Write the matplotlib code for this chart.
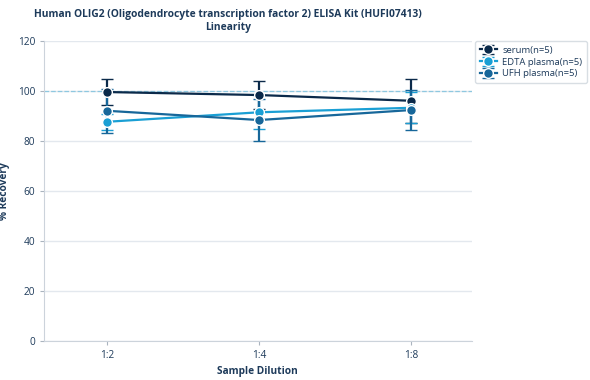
import matplotlib.pyplot as plt
import numpy as np

plt.rcParams['font.family'] = ['Open Sans', 'Noto Sans', 'DejaVu Sans']

dilutions = ['1:2', '1:4', '1:8']
serum = [99.6, 98.4, 96.1]
serum_err = [5.2, 5.6, 8.7]
edta = [87.7, 91.5, 93.3]
edta_err = [3.3, 6.8, 6.2]
ufh = [92.1, 88.4, 92.4]
ufh_err = [8.8, 8.3, 8.0]

series = [
    ('serum(n=5)', serum, serum_err, '#0b2a4a'),
    ('EDTA plasma(n=5)', edta, edta_err, '#1a9fd4'),
    ('UFH plasma(n=5)', ufh, ufh_err, '#17679a'),
]

text_color = '#1d3a5a'

fig = plt.figure(figsize=(5.9, 3.8), dpi=100)
ax = fig.add_axes([0.0746, 0.1026, 0.7254, 0.7894])

x = np.arange(len(dilutions))
for name, vals, errs, color in series:
    ax.errorbar(x, vals, yerr=errs, color=color, lw=1.6, marker='o', ms=7,
                mec='white', mew=1.0, capsize=4, capthick=1.6, elinewidth=1.6,
                label=name, zorder=3)

ax.axhline(100, color='#8ec8e0', lw=0.9, ls='--', zorder=1)

ax.set_xlim(-0.414, 2.40)
ax.set_ylim(0, 120)
ax.set_yticks(range(0, 121, 20))
ax.set_xticks(x)
ax.set_xticklabels(dilutions)
ax.yaxis.grid(True, color='#e3e8ee', lw=1)
ax.set_axisbelow(True)
for s in ['top', 'right']:
    ax.spines[s].set_visible(False)
for s in ['left', 'bottom']:
    ax.spines[s].set_color('#ccd3db')
ax.tick_params(colors=text_color, labelsize=7.3, length=3)
ax.tick_params(axis='both', color='#aab4bf')

ax.set_xlabel('Sample Dilution', fontsize=7.3, fontweight='bold', color=text_color)
ax.set_ylabel('% Recovery', fontsize=7.3, fontweight='bold', color=text_color)
ax.xaxis.set_label_coords(0.4977, -0.083)
ax.yaxis.set_label_coords(-0.079, 0.5)
ax.set_title('Human OLIG2 (Oligodendrocyte transcription factor 2) ELISA Kit (HUFI07413)\nLinearity',
             fontsize=7.4, fontweight='bold', color=text_color, x=0.43, pad=8,
             linespacing=1.2)

leg = ax.legend(loc='upper left', bbox_to_anchor=(1.007, 1.0), fontsize=6.8,
                frameon=True, borderpad=0.5, handlelength=1.8, borderaxespad=0,
                labelspacing=0.3, handletextpad=0.6)
leg.get_frame().set_edgecolor('#cfd6dd')
for t in leg.get_texts():
    t.set_color(text_color)

fig.savefig('out.png', dpi=100)
